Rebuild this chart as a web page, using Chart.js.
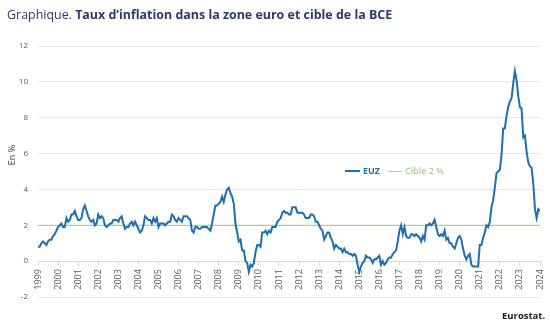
<!DOCTYPE html>
<html><head><meta charset="utf-8">
<script src="https://cdn.jsdelivr.net/npm/chart.js@4.4.1/dist/chart.umd.min.js"></script>
<style>
html,body{margin:0;padding:0;background:#fff;}
#wrap{position:relative;width:550px;height:324px;overflow:hidden;font-family:"Open Sans",sans-serif;background:#fff;}
canvas{position:absolute;left:0;top:0;}
#title{position:absolute;left:7px;top:6px;font-size:12.45px;color:#2b3a70;white-space:nowrap;}
#title b{font-weight:700;}
#ylab{position:absolute;left:11px;top:155px;transform:translate(-50%,-50%) rotate(-90deg);font-size:9px;color:#333;white-space:nowrap;}
.lg{position:absolute;top:165px;font-size:9px;font-weight:700;white-space:nowrap;line-height:12px;}
.ln{position:absolute;}
#source{position:absolute;left:502px;top:309px;font-size:9.5px;font-weight:700;color:#1a1a1a;white-space:nowrap;}
</style></head>
<body>
<div id="wrap">
<canvas id="c" width="550" height="324"></canvas>
<div id="title">Graphique. <b>Taux d’inflation dans la zone euro et cible de la BCE</b></div>
<div id="ylab">En %</div>
<div class="ln" style="left:345px;top:170px;width:15px;height:2px;background:#1f6db3"></div>
<div class="lg" style="left:363px;color:#1f6db3">EUZ</div>
<div class="ln" style="left:388px;top:171px;width:14px;height:1px;background:#a9d18e"></div>
<div class="lg" style="left:405px;color:#a9d18e;font-weight:600">Cible 2 %</div>
<div id="source">Eurostat.</div>
</div>
<script>
// Tick labels (one per January)
const years = ['1999','2000','2001','2002','2003','2004','2005','2006','2007','2008','2009','2010','2011','2012','2013','2014','2015','2016','2017','2018','2019','2020','2021','2022','2023','2024'];
// ECB target
const targetRate = 2;
// Euro area annual inflation, monthly, Jan 1999 - Jan 2024 (%)
const inflation = [
 0.8,0.8,1.0,1.1,1.0,0.9,1.1,1.2,1.2,1.4,1.5,1.7,      // 1999
 1.9,2.0,2.1,1.9,1.9,2.4,2.2,2.3,2.6,2.6,2.8,2.5,      // 2000
 2.3,2.3,2.4,2.9,3.1,2.8,2.5,2.3,2.2,2.3,2.0,2.1,      // 2001
 2.6,2.4,2.5,2.4,2.0,1.9,2.0,2.1,2.1,2.3,2.3,2.3,      // 2002
 2.2,2.4,2.5,2.1,1.8,1.9,1.9,2.1,2.2,2.0,2.2,2.0,      // 2003
 1.8,1.6,1.7,2.0,2.5,2.4,2.3,2.3,2.1,2.4,2.2,2.4,      // 2004
 1.9,2.1,2.1,2.1,2.0,2.1,2.2,2.2,2.6,2.5,2.3,2.2,      // 2005
 2.4,2.3,2.2,2.5,2.5,2.5,2.4,2.3,1.7,1.6,1.9,1.9,      // 2006
 1.8,1.8,1.9,1.9,1.9,1.9,1.8,1.7,2.1,2.6,3.1,3.1,      // 2007
 3.2,3.3,3.6,3.3,3.7,4.0,4.1,3.8,3.6,3.2,2.1,1.6,      // 2008
 1.1,1.2,0.6,0.6,0.0,-0.1,-0.6,-0.2,-0.3,-0.1,0.5,0.9, // 2009
 0.9,0.8,1.6,1.6,1.7,1.5,1.7,1.6,1.9,1.9,1.9,2.2,      // 2010
 2.3,2.4,2.7,2.8,2.7,2.7,2.6,2.6,3.0,3.0,3.0,2.7,      // 2011
 2.7,2.7,2.7,2.6,2.4,2.4,2.4,2.6,2.6,2.5,2.2,2.2,      // 2012
 2.0,1.8,1.7,1.2,1.4,1.6,1.6,1.3,1.1,0.7,0.9,0.8,      // 2013
 0.7,0.7,0.5,0.7,0.5,0.5,0.4,0.4,0.3,0.4,0.3,-0.2,     // 2014
 -0.6,-0.3,-0.1,0.0,0.3,0.2,0.2,0.1,-0.1,0.1,0.1,0.2,  // 2015
 0.3,-0.2,0.0,-0.2,-0.1,0.1,0.2,0.2,0.4,0.5,0.6,1.1,   // 2016
 1.7,2.0,1.5,1.9,1.4,1.3,1.3,1.5,1.5,1.4,1.5,1.4,      // 2017
 1.3,1.1,1.4,1.2,2.0,2.0,2.1,2.0,2.1,2.3,1.9,1.5,      // 2018
 1.4,1.5,1.4,1.7,1.2,1.3,1.0,1.0,0.8,0.7,1.0,1.3,      // 2019
 1.4,1.2,0.7,0.3,0.1,0.3,0.4,-0.2,-0.3,-0.3,-0.3,-0.3, // 2020
 0.9,0.9,1.3,1.6,2.0,1.9,2.2,3.0,3.4,4.1,4.9,5.0,      // 2021
 5.1,5.9,7.4,7.4,8.1,8.6,8.9,9.1,9.9,10.6,10.1,9.2,    // 2022
 8.6,8.5,6.9,7.0,6.1,5.5,5.3,5.2,4.3,2.9,2.4,2.9,      // 2023
 2.8                                                   // 2024
];
const lastIndex = (years.length - 1) * 12;
const tickFont = {family:'"Open Sans", sans-serif', size:8};
const yearFont = {family:'"Open Sans", sans-serif', size:9};

new Chart(document.getElementById('c'), {
  type: 'line',
  data: {
    datasets: [
      {label:'EUZ', data: inflation.map((v,i)=>({x:i,y:v})), borderColor:'#1f6db3', borderWidth:2, pointRadius:0, tension:0, order:1},
      {label:'Cible 2 %', data: [{x:0,y:targetRate},{x:lastIndex,y:targetRate}], borderColor:'#a9d18e', borderWidth:1.2, pointRadius:0, order:2}
    ]
  },
  options: {
    responsive:false, animation:false,
    layout:{padding:{top:46,bottom:27,left:0,right:10}},
    plugins:{legend:{display:false}, tooltip:{enabled:false}},
    scales:{
      x:{type:'linear', min:0, max:lastIndex, position:{y:0},
         ticks:{stepSize:12, autoSkip:false, minRotation:90, maxRotation:90, font:yearFont, color:'#595959', padding:5,
                callback:(v)=> years[Math.round(v/12)]},
         grid:{drawOnChartArea:false, drawTicks:true, tickLength:3, color:'#d9d9d9'},
         border:{display:true, color:'#d9d9d9'},
         afterFit(s){ s.paddingLeft = 0; s.paddingRight = 0; }},
      y:{min:-2, max:12,
         ticks:{stepSize:2, font:tickFont, color:'#595959', padding:10},
         grid:{color:'#e6e6e6', drawTicks:false},
         border:{display:false},
         afterFit(s){ s.width = 38; }}
    }
  }
});
</script>
</body></html>
